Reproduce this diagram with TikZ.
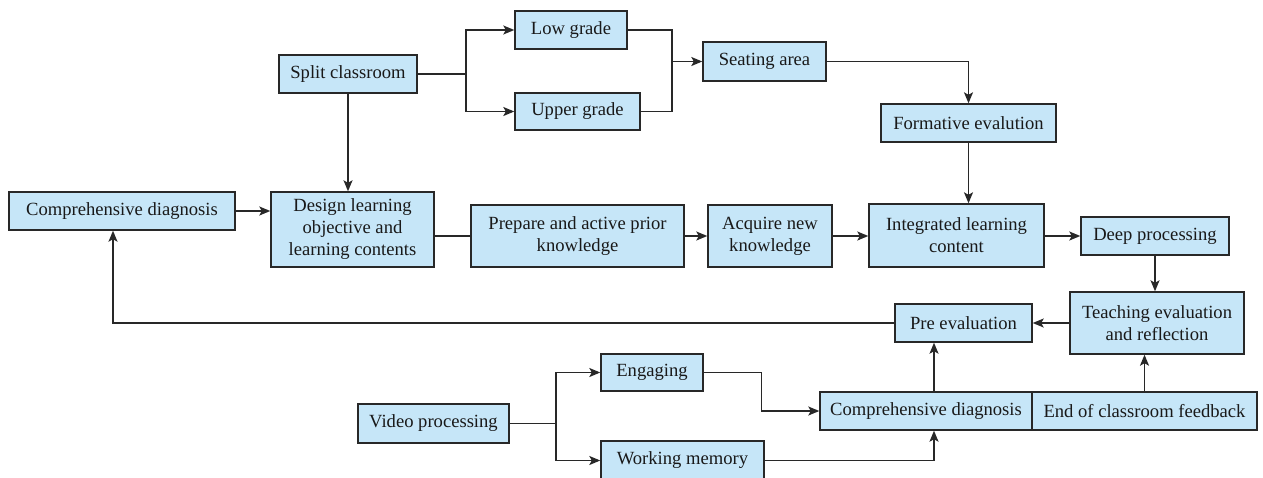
\documentclass[tikz,border=0pt]{standalone}
\usepackage{fontspec}
\setmainfont{Liberation Serif}
\usetikzlibrary{arrows.meta,calc}
\definecolor{boxfill}{RGB}{198,230,248}
\definecolor{boxline}{RGB}{40,40,40}
\begin{document}
\begin{tikzpicture}[x=1pt,y=-1pt,
  box/.style={draw=boxline, line width=1.4pt, fill=boxfill, inner sep=0pt, align=center,
    font=\fontsize{18.6}{22}\selectfont, text=black!90},
  con/.style={draw=boxline, line width=1.4pt},
  arr/.style={con, -{Stealth[length=11pt,width=9pt,inset=2.5pt]}}]
\useasboundingbox (0,0) rectangle (1263,477);
% nodes
\node[box, minimum width=138pt, minimum height=38pt] (split) at (348,74) {Split classroom};
\node[box, minimum width=112pt, minimum height=38pt] (low) at (571,30) {Low grade};
\node[box, minimum width=125pt, minimum height=37pt] (upper) at (577.5,111.5) {Upper grade};
\node[box, minimum width=123pt, minimum height=39pt] (seat) at (764.5,61.5) {Seating area};
\node[box, minimum width=175pt, minimum height=38pt] (form) at (968.5,123) {Formative evalution};
\node[box, minimum width=226pt, minimum height=38pt] (comp1) at (122,211) {Comprehensive diagnosis};
\node[box, minimum width=163pt, minimum height=75pt] (design) at (352.5,229.5) {Design learning\\objective and\\learning contents};
\node[box, minimum width=213pt, minimum height=62pt] (prep) at (577.5,236) {Prepare and active prior\\knowledge};
\node[box, minimum width=124pt, minimum height=62pt] (acq) at (770,236) {Acquire new\\knowledge};
\node[box, minimum width=175pt, minimum height=63pt] (integ) at (956.5,235.5) {Integrated learning\\content};
\node[box, minimum width=148pt, minimum height=38pt] (deep) at (1155,236) {Deep processing};
\node[box, minimum width=174pt, minimum height=62pt] (teach) at (1157,323) {Teaching evaluation\\and reflection};
\node[box, minimum width=137pt, minimum height=38pt] (pre) at (963.5,323) {Pre evaluation};
\node[box, minimum width=151pt, minimum height=39pt] (video) at (433.5,423.5) {Video processing};
\node[box, minimum width=102pt, minimum height=37pt] (eng) at (652,372.5) {Engaging};
\node[box, minimum width=163pt, minimum height=39pt] (wm) at (682.5,460.5) {Working memory};
\node[box, minimum width=212pt, minimum height=38pt] (comp2) at (926,411) {Comprehensive diagnosis};
\node[box, minimum width=225pt, minimum height=38pt] (end) at (1144.5,411) {End of classroom feedback};
% junctions
\coordinate (b1) at (466,74);
\coordinate (b2) at (672,61.5);
\coordinate (b3) at (556,423.5);
% connectors
\draw[con] (split.east) -- (b1);
\draw[arr] (b1) |- (low.west);
\draw[arr] (b1) |- (upper.west);
\draw[con] (low.east) -| (b2);
\draw[con] (upper.east) -| (b2);
\draw[arr] (b2) -- (seat.west);
\draw[arr] (seat.east) -| (form.north);
\draw[arr] (form.south) -- (form.south |- integ.north);
\draw[arr] (split.south) -- (split.south |- design.north);
\draw[arr] (comp1.east) -- (comp1.east -| design.west);
\draw[con] (design.east |- prep.west) -- (prep.west);
\draw[arr] (prep.east) -- (acq.west);
\draw[arr] (acq.east) -- (acq.east -| integ.west);
\draw[arr] (integ.east |- deep.west) -- (deep.west);
\draw[arr] (deep.south) -- (deep.south |- teach.north);
\draw[arr] (teach.west) -- (pre.east);
\draw[arr] (pre.west) -| ([xshift=-9pt]comp1.south);
\draw[con] (video.east) -- (b3);
\draw[arr] (b3) |- (eng.west);
\draw[arr] (b3) |- (wm.west);
\draw[arr] (eng.east) -- ++(58,0) |- (comp2.west);
\draw[arr] (wm.east) -| ([xshift=8pt]comp2.south);
\draw[arr] ([xshift=8pt]comp2.north) -- ([xshift=8pt]comp2.north |- pre.south);
\draw[arr] (end.north) -- (end.north |- teach.south);
\end{tikzpicture}
\end{document}
